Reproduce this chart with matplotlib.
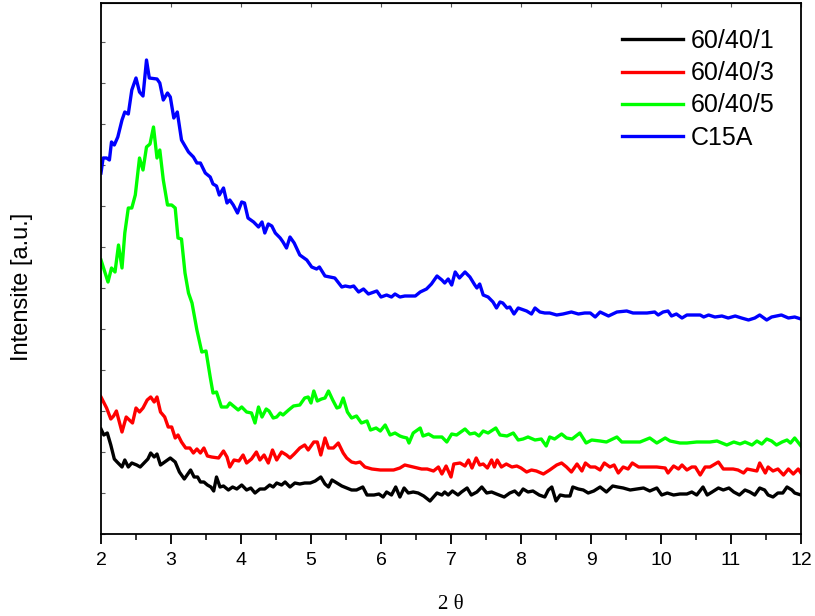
import matplotlib
matplotlib.use("Agg")
import matplotlib.pyplot as plt
from matplotlib.ticker import MultipleLocator

# C15A (blue)
x_c15a = [2.00, 2.03, 2.08, 2.12, 2.15, 2.19, 2.24, 2.30, 2.34, 2.39, 2.44, 2.50, 2.55, 2.60,
          2.65, 2.69, 2.80, 2.84, 2.89, 2.95, 2.99, 3.04, 3.09, 3.15, 3.25, 3.32, 3.37, 3.42,
          3.49, 3.56, 3.60, 3.65, 3.69, 3.75, 3.80, 3.84, 3.89, 3.95, 4.01, 4.05, 4.10, 4.18,
          4.25, 4.30, 4.34, 4.39, 4.44, 4.49, 4.56, 4.60, 4.65, 4.70, 4.76, 4.84, 4.94, 5.01,
          5.08, 5.12, 5.20, 5.27, 5.34, 5.44, 5.49, 5.56, 5.61, 5.68, 5.75, 5.82, 5.94, 6.00,
          6.08, 6.15, 6.20, 6.27, 6.34, 6.49, 6.56, 6.65, 6.72, 6.80, 6.87, 6.91, 6.96, 7.01,
          7.06, 7.12, 7.20, 7.27, 7.34, 7.37, 7.41, 7.46, 7.53, 7.60, 7.65, 7.70, 7.74, 7.80,
          7.84, 7.90, 7.96, 8.08, 8.15, 8.20, 8.27, 8.34, 8.41, 8.51, 8.60, 8.72, 8.82, 8.91,
          8.99, 9.06, 9.13, 9.25, 9.37, 9.51, 9.60, 9.80, 9.91, 9.96, 10.03, 10.10, 10.15, 10.22,
          10.30, 10.37, 10.56, 10.61, 10.68, 10.77, 10.87, 10.96, 11.06, 11.15, 11.25, 11.34,
          11.41, 11.51, 11.58, 11.72, 11.82, 11.91, 12.00]
y_c15a = [361, 376, 376, 374, 392, 389, 397, 414, 422, 420, 444, 456, 442, 438,
          474, 456, 455, 451, 434, 441, 437, 416, 422, 394, 382, 377, 371, 371,
          361, 357, 350, 348, 339, 346, 331, 334, 329, 321, 332, 331, 316, 312,
          307, 312, 301, 310, 308, 301, 296, 292, 286, 297, 291, 279, 274, 267,
          265, 267, 258, 257, 256, 247, 248, 247, 248, 242, 245, 240, 243, 237,
          239, 237, 240, 237, 238, 238, 242, 245, 250, 258, 254, 251, 255, 249,
          262, 256, 262, 257, 249, 246, 250, 239, 237, 232, 226, 232, 231, 226,
          227, 220, 226, 223, 220, 226, 222, 221, 221, 219, 220, 222, 220, 221,
          221, 217, 222, 218, 222, 223, 221, 221, 222, 219, 222, 223, 218, 220,
          216, 219, 219, 217, 219, 217, 218, 216, 218, 216, 214, 216,
          219, 214, 217, 219, 216, 217, 215]

# 60/40/5 (green)
x_605 = [2.00, 2.06, 2.10, 2.15, 2.20, 2.25, 2.30, 2.34, 2.39, 2.44, 2.49, 2.55, 2.60, 2.65,
         2.70, 2.75, 2.80, 2.84, 2.89, 2.95, 3.01, 3.06, 3.10, 3.15, 3.20, 3.25, 3.30, 3.37,
         3.44, 3.50, 3.56, 3.60, 3.65, 3.72, 3.80, 3.84, 3.91, 3.96, 4.01, 4.08, 4.15, 4.20,
         4.25, 4.30, 4.36, 4.40, 4.46, 4.51, 4.56, 4.60, 4.68, 4.75, 4.84, 4.91, 4.96, 5.00,
         5.04, 5.09, 5.15, 5.20, 5.25, 5.31, 5.37, 5.41, 5.46, 5.52, 5.58, 5.65, 5.72, 5.80,
         5.85, 5.93, 5.99, 6.06, 6.13, 6.20, 6.27, 6.31, 6.37, 6.40, 6.46, 6.56, 6.60, 6.68,
         6.75, 6.87, 6.94, 7.01, 7.08, 7.20, 7.27, 7.34, 7.40, 7.46, 7.53, 7.64, 7.70, 7.80,
         7.89, 7.96, 8.03, 8.10, 8.20, 8.29, 8.36, 8.41, 8.48, 8.58, 8.65, 8.73, 8.84, 8.93,
         9.01, 9.13, 9.22, 9.37, 9.44, 9.56, 9.70, 9.84, 9.94, 10.06, 10.13, 10.27, 10.37,
         10.51, 10.70, 10.80, 10.94, 11.04, 11.13, 11.20, 11.30, 11.37, 11.44, 11.51, 11.58,
         11.65, 11.73, 11.80, 11.85, 11.91, 12.00]
y_605 = [274, 261, 252, 266, 262, 289, 266, 301, 326, 326, 339, 376, 364, 387,
         390, 407, 376, 384, 354, 329, 329, 326, 296, 295, 261, 241, 231, 204,
         182, 183, 157, 141, 142, 127, 127, 131, 127, 124, 127, 122, 121, 111,
         127, 117, 125, 123, 116, 117, 121, 119, 124, 128, 129, 136, 137, 131,
         143, 133, 135, 136, 143, 134, 126, 127, 136, 122, 116, 118, 111, 113,
         104, 106, 103, 109, 99, 101, 98, 97, 96, 91, 101, 106, 98, 100,
         97, 97, 92, 100, 99, 105, 100, 101, 98, 103, 101, 106, 99, 98,
         101, 94, 95, 97, 94, 95, 88, 97, 95, 100, 96, 95, 101, 91,
         94, 93, 92, 97, 92, 92, 92, 96, 91, 96, 93, 91, 91,
         92, 92, 93, 89, 92, 90, 92, 89, 93, 90, 95, 93,
         89, 92, 94, 91, 96, 88]

# 60/40/3 (red)
x_603 = [2.00, 2.08, 2.14, 2.18, 2.22, 2.30, 2.36, 2.45, 2.50, 2.55, 2.60, 2.66, 2.71, 2.76,
         2.80, 2.85, 2.91, 2.96, 3.01, 3.06, 3.10, 3.15, 3.21, 3.27, 3.32, 3.37, 3.42, 3.47,
         3.52, 3.58, 3.68, 3.75, 3.80, 3.84, 3.90, 3.97, 4.03, 4.08, 4.15, 4.22, 4.27, 4.33,
         4.39, 4.45, 4.51, 4.58, 4.65, 4.70, 4.76, 4.84, 4.91, 4.96, 5.04, 5.09, 5.14, 5.20,
         5.25, 5.32, 5.39, 5.46, 5.51, 5.58, 5.64, 5.70, 5.77, 5.87, 5.99, 6.10, 6.18, 6.27,
         6.34, 6.46, 6.58, 6.66, 6.75, 6.82, 6.87, 6.93, 7.00, 7.04, 7.13, 7.20, 7.25, 7.30,
         7.36, 7.41, 7.46, 7.52, 7.58, 7.62, 7.66, 7.72, 7.79, 7.87, 7.94, 8.00, 8.08, 8.15,
         8.22, 8.32, 8.41, 8.51, 8.58, 8.65, 8.72, 8.80, 8.87, 8.92, 8.99, 9.06, 9.13, 9.19,
         9.27, 9.33, 9.39, 9.46, 9.53, 9.59, 9.68, 9.84, 9.94, 10.06, 10.10, 10.18, 10.25,
         10.30, 10.37, 10.44, 10.49, 10.56, 10.63, 10.70, 10.82, 10.89, 11.03, 11.10, 11.18,
         11.23, 11.30, 11.37, 11.41, 11.49, 11.53, 11.60, 11.67, 11.75, 11.82, 11.89, 11.96,
         12.00]
y_603 = [137, 126, 115, 118, 123, 102, 117, 111, 126, 122, 126, 134, 137, 132,
         137, 122, 117, 107, 107, 96, 99, 92, 86, 86, 81, 85, 81, 86,
         78, 77, 76, 83, 77, 67, 74, 73, 79, 71, 75, 82, 74, 79,
         71, 84, 74, 82, 79, 76, 80, 86, 89, 84, 92, 92, 79, 96,
         86, 86, 91, 81, 76, 72, 71, 72, 67, 65, 64, 64, 64, 66,
         69, 67, 65, 65, 63, 67, 60, 68, 57, 70, 71, 68, 74, 66,
         76, 69, 70, 66, 74, 67, 74, 67, 70, 67, 68, 66, 62, 64,
         63, 60, 64, 69, 71, 67, 62, 70, 63, 71, 67, 67, 64, 71,
         67, 69, 61, 67, 65, 71, 67, 67, 67, 66, 61, 68, 65,
         69, 64, 67, 67, 59, 67, 67, 72, 65, 65, 64, 61,
         65, 64, 63, 71, 61, 67, 63, 65, 59, 65, 60, 65,
         61]

# 60/40/1 (black)
x_601 = [2.00, 2.04, 2.09, 2.14, 2.19, 2.23, 2.30, 2.34, 2.39, 2.44, 2.51, 2.56, 2.63, 2.67,
         2.71, 2.76, 2.80, 2.85, 2.91, 2.99, 3.06, 3.12, 3.19, 3.23, 3.28, 3.33, 3.38, 3.42,
         3.47, 3.52, 3.57, 3.61, 3.65, 3.70, 3.75, 3.82, 3.88, 3.94, 4.01, 4.08, 4.14, 4.20,
         4.27, 4.34, 4.41, 4.46, 4.51, 4.58, 4.63, 4.70, 4.77, 4.84, 4.91, 4.99, 5.06, 5.14,
         5.20, 5.25, 5.30, 5.37, 5.44, 5.51, 5.58, 5.65, 5.74, 5.80, 5.90, 5.97, 6.03, 6.08,
         6.15, 6.21, 6.27, 6.33, 6.39, 6.46, 6.53, 6.61, 6.70, 6.80, 6.87, 6.91, 6.96, 7.02,
         7.10, 7.15, 7.23, 7.29, 7.37, 7.44, 7.51, 7.58, 7.65, 7.76, 7.84, 7.91, 7.97, 8.03,
         8.10, 8.17, 8.26, 8.34, 8.39, 8.44, 8.50, 8.56, 8.63, 8.70, 8.74, 8.82, 8.89, 8.96,
         9.04, 9.13, 9.22, 9.31, 9.38, 9.46, 9.56, 9.65, 9.75, 9.84, 9.94, 10.01, 10.09,
         10.18, 10.27, 10.37, 10.44, 10.51, 10.60, 10.66, 10.73, 10.82, 10.89, 10.97, 11.04,
         11.12, 11.20, 11.27, 11.34, 11.41, 11.48, 11.53, 11.60, 11.67, 11.74, 11.80, 11.87,
         11.91, 12.00]
y_601 = [105, 99, 101, 89, 75, 72, 67, 74, 67, 71, 69, 67, 72, 75,
         81, 77, 80, 69, 72, 76, 72, 62, 55, 59, 64, 57, 57, 52,
         52, 49, 47, 43, 57, 47, 48, 44, 47, 45, 49, 44, 46, 41,
         45, 45, 49, 47, 51, 49, 52, 47, 51, 50, 51, 51, 53, 57,
         50, 47, 54, 51, 48, 46, 44, 44, 47, 39, 39, 40, 37, 42,
         39, 47, 37, 46, 41, 42, 41, 38, 33, 41, 39, 42, 39, 43,
         39, 42, 46, 39, 42, 47, 41, 42, 40, 37, 41, 43, 39, 45,
         42, 43, 39, 37, 44, 47, 33, 39, 38, 38, 47, 45, 44, 41,
         43, 47, 42, 48, 47, 46, 44, 45, 46, 43, 46, 39, 41,
         39, 40, 40, 42, 39, 47, 39, 42, 46, 44, 46, 42,
         39, 44, 42, 39, 46, 44, 39, 37, 41, 41, 47, 44,
         41, 39]

fig = plt.figure(figsize=(8.15, 6.16), dpi=100)
ax = fig.add_axes([101 / 815, 82 / 616, 700 / 815, 531 / 616])

lw = 2.4
ax.plot(x_601, y_601, color='#000000', lw=lw, label='60/40/1')
ax.plot(x_603, y_603, color='#ff0000', lw=lw, label='60/40/3')
ax.plot(x_605, y_605, color='#00ff00', lw=lw, label='60/40/5')
ax.plot(x_c15a, y_c15a, color='#0000ff', lw=lw, label='C15A')

ax.set_xlim(2, 12)
ax.set_ylim(0, 531)
ax.xaxis.set_major_locator(MultipleLocator(1))
ax.xaxis.set_minor_locator(MultipleLocator(0.5))
ax.yaxis.set_major_locator(MultipleLocator(41))

for s in ax.spines.values():
    s.set_linewidth(1.3)

ax.tick_params(axis='x', which='major', direction='out', length=7, width=1.3,
               labelsize=14, pad=6)
ax.tick_params(axis='x', which='minor', direction='out', length=4, width=1.1)
ax.tick_params(axis='y', which='major', direction='in', length=3, width=0.8,
               color='0.35', labelleft=False)
for lab in ax.get_xticklabels():
    lab.set_family('Liberation Sans')

top = ax.secondary_xaxis('top')
top.xaxis.set_major_locator(MultipleLocator(1))
top.tick_params(direction='in', length=3, width=0.8, color='0.35', labeltop=False)

ax.set_xlabel('2 θ', family='Liberation Serif', fontsize=15, labelpad=19)
ax.set_ylabel('Intensite [a.u.]', family='Liberation Sans', fontsize=17)
ax.yaxis.set_label_coords(-0.097, 0.465)

ax.legend(loc='upper left', bbox_to_anchor=(622 / 815, 1 - 29 / 616),
          bbox_transform=fig.transFigure, frameon=False,
          prop={'family': 'Liberation Sans', 'size': 18},
          handlelength=2.45, handletextpad=0.3, labelspacing=0.33,
          borderpad=0, borderaxespad=0)

fig.savefig('out.png', dpi=100)
